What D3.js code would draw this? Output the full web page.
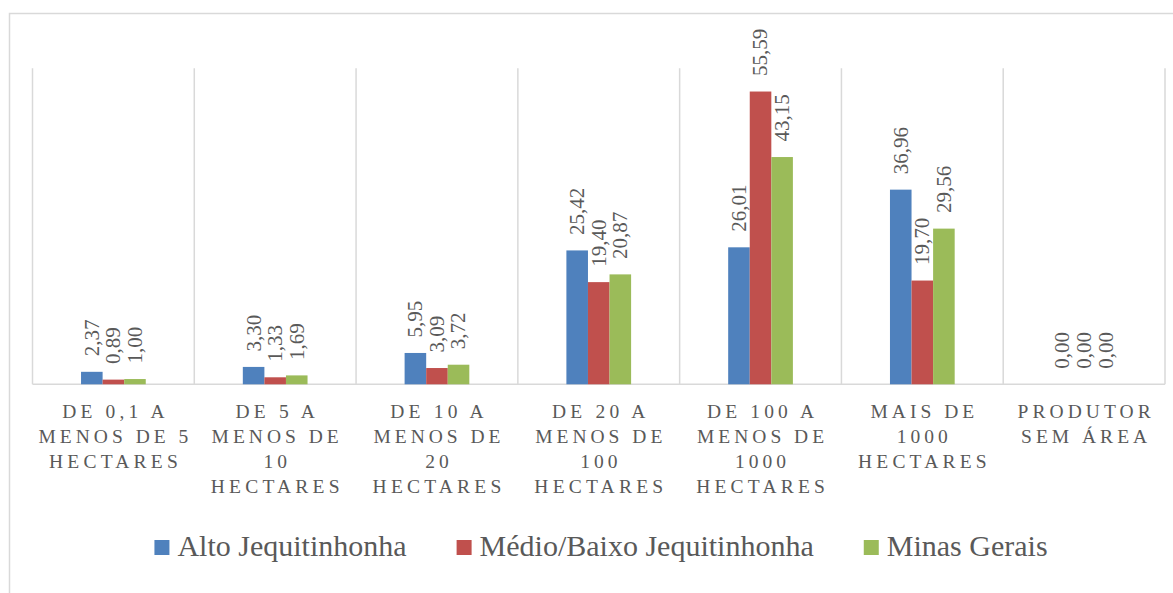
<!DOCTYPE html>
<html>
<head>
<meta charset="utf-8">
<script src="https://cdn.jsdelivr.net/npm/d3@7"></script>
</head>
<body style="margin:0">
<svg id="s" width="1173" height="593"></svg>
<script>
// ---- data ----
const categories = [
  ["DE 0,1 A", "MENOS DE 5", "HECTARES"],
  ["DE 5 A", "MENOS DE", "10", "HECTARES"],
  ["DE 10 A", "MENOS DE", "20", "HECTARES"],
  ["DE 20 A", "MENOS DE", "100", "HECTARES"],
  ["DE 100 A", "MENOS DE", "1000", "HECTARES"],
  ["MAIS DE", "1000", "HECTARES"],
  ["PRODUTOR", "SEM ÁREA"]
];
const seriesNames = ["Alto Jequitinhonha", "Médio/Baixo Jequitinhonha", "Minas Gerais"];
const altoJequitinhonha = [2.37, 3.30, 5.95, 25.42, 26.01, 36.96, 0.00];
const medioBaixoJequitinhonha = [0.89, 1.33, 3.09, 19.40, 55.59, 19.70, 0.00];
const minasGerais = [1.00, 1.69, 3.72, 20.87, 43.15, 29.56, 0.00];
const seriesColors = ["#4F81BD", "#C0504D", "#9BBB59"];
const yMax = 60;

const seriesValues = [altoJequitinhonha, medioBaixoJequitinhonha, minasGerais];
const fontName = "Liberation Serif";
const FONT = `'${fontName}', monospace`;
const TXT = "#595959";

// ---- layout ----
const svg = d3.select("#s");
const plot = { left: 32.5, right: 1165, top: 68.3, bottom: 384.3 };

svg.append("rect")
  .attr("x", 9.5).attr("y", 13.5)
  .attr("width", 1200).attr("height", 700)
  .attr("fill", "none").attr("stroke", "#d9d9d9").attr("stroke-width", 1.5);

const x = d3.scaleBand()
  .domain(d3.range(categories.length))
  .range([plot.left, plot.right])
  .paddingInner(0).paddingOuter(0);
const bw = x.bandwidth();
const xs = d3.scaleBand()
  .domain(d3.range(seriesNames.length))
  .range([bw * 0.3, bw * 0.7])
  .padding(0);
const y = d3.scaleLinear().domain([0, yMax]).range([plot.bottom, plot.top]);

// vertical category gridlines
const boundaries = d3.range(categories.length + 1).map(i =>
  i < categories.length ? x(i) : x(categories.length - 1) + bw);
svg.append("g").selectAll("line").data(boundaries).join("line")
  .attr("x1", d => d).attr("x2", d => d)
  .attr("y1", y(yMax)).attr("y2", y(0))
  .attr("stroke", "#d9d9d9").attr("stroke-width", 1.5);

// baseline
svg.append("line")
  .attr("x1", plot.left).attr("x2", plot.right)
  .attr("y1", y(0)).attr("y2", y(0))
  .attr("stroke", "#d9d9d9").attr("stroke-width", 1.5);

// bars
const fmt = v => d3.format(".2f")(v).replace(".", ",");
const flat = [];
seriesValues.forEach((vals, s) => vals.forEach((v, c) => flat.push({ s, c, v })));

svg.append("g").selectAll("rect").data(flat).join("rect")
  .attr("x", d => x(d.c) + xs(d.s))
  .attr("y", d => y(d.v))
  .attr("width", xs.bandwidth())
  .attr("height", d => y(0) - y(d.v))
  .attr("fill", d => seriesColors[d.s]);

// data labels (rotated)
svg.append("g").selectAll("text").data(flat).join("text")
  .attr("font-family", FONT)
  .attr("font-size", 21)
  .attr("fill", TXT)
  .attr("text-anchor", "start")
  .attr("dy", "0.33em")
  .attr("transform", d => {
    const cx = x(d.c) + xs(d.s) + xs.bandwidth() / 2;
    const cy = y(d.v) - 15.5;
    return `translate(${cx},${cy}) rotate(-90)`;
  })
  .text(d => fmt(d.v));

// category axis labels: one text per line, spaced capitals via textLength
const spacing = 4, catSize = 19.5;
const catLines = [];
categories.forEach((lines, i) => lines.forEach((ln, j) => catLines.push({ i, j, ln })));
const approxCapWidth = { " ": 0.25, ",": 0.25, "M": 0.889, "N": 0.722, "O": 0.722, "D": 0.722,
  "E": 0.611, "S": 0.556, "H": 0.722, "C": 0.667, "T": 0.611, "A": 0.722, "R": 0.667,
  "P": 0.556, "U": 0.722, "I": 0.333, "Á": 0.722 };
const natural = s => d3.sum(Array.from(s), ch => approxCapWidth[ch] ?? 0.5) * catSize;
svg.append("g").selectAll("text").data(catLines).join("text")
  .attr("font-family", FONT)
  .attr("font-size", catSize)
  .attr("fill", TXT)
  .attr("text-anchor", "middle")
  .attr("x", d => x(d.i) + bw / 2)
  .attr("y", d => 418 + d.j * 25)
  .attr("textLength", d => d.ln.length > 1 ? natural(d.ln) + spacing * (d.ln.length - 1) : null)
  .attr("lengthAdjust", "spacing")
  .text(d => d.ln);

// legend
const legendSize = 30;
const legendWidths = seriesNames.map(n => 23 + d3.sum(Array.from(n), ch => ({
  "A": 0.722, "l": 0.278, "t": 0.278, "o": 0.5, " ": 0.25, "J": 0.389, "e": 0.444, "q": 0.5,
  "u": 0.5, "i": 0.278, "n": 0.5, "h": 0.5, "a": 0.444, "M": 0.889, "é": 0.444, "d": 0.5,
  "/": 0.278, "B": 0.667, "x": 0.5, "s": 0.389, "G": 0.722, "r": 0.333
})[ch] ?? 0.5) * legendSize);
const gap = 50;
const totalW = d3.sum(legendWidths) + gap * (seriesNames.length - 1);
const legendX = seriesNames.map((n, i) => 601 - totalW / 2 + d3.sum(legendWidths.slice(0, i)) + gap * i);
const lg = svg.append("g").selectAll("g").data(seriesNames).join("g")
  .attr("transform", (d, i) => `translate(${legendX[i]},555)`);
lg.append("rect").attr("y", -15).attr("width", 15).attr("height", 15)
  .attr("fill", (d, i) => seriesColors[i]);
lg.append("text")
  .attr("font-family", FONT)
  .attr("font-size", legendSize)
  .attr("fill", TXT)
  .attr("x", 23).attr("y", 1)
  .attr("textLength", (d, i) => legendWidths[i] - 23)
  .attr("lengthAdjust", "spacing")
  .text(d => d);
</script>
</body>
</html>
